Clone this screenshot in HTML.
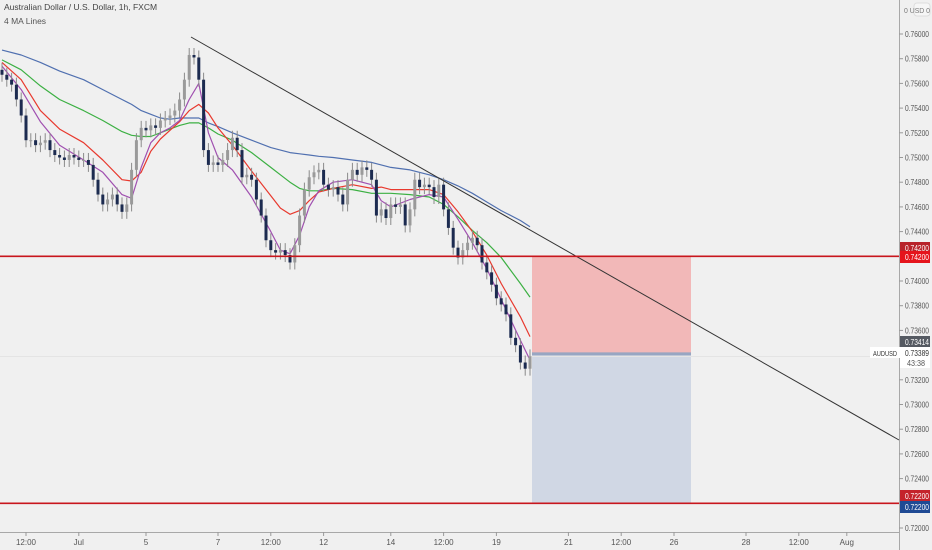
<!DOCTYPE html>
<html><head><meta charset="utf-8">
<style>
html,body{margin:0;padding:0;background:#f0f0f0;}
svg{display:block;font-family:"Liberation Sans",sans-serif;}
</style></head>
<body>
<svg id="chart" width="932" height="550" viewBox="0 0 932 550">
<rect x="0" y="0" width="932" height="550" fill="#f0f0f0"/>
<g id="zones"></g>
<g id="mas"></g>
<g id="candles"></g>
<g id="overlay"></g>
<line x1="899.5" y1="0" x2="899.5" y2="550" stroke="#a8a8a8"/>
<line x1="0" y1="532.5" x2="899" y2="532.5" stroke="#a8a8a8"/>
<g id="yaxis" font-size="8" fill="#555"></g>
<g id="xaxis" font-size="8" fill="#555"></g>
<text x="4" y="10" font-size="8.5" fill="#444">Australian Dollar / U.S. Dollar, 1h, FXCM</text>
<text x="4" y="24" font-size="8.5" fill="#555">4 MA Lines</text>
<rect x="914" y="3" width="16" height="13" rx="3" fill="#f6f6f6" stroke="#ddd"/>
<text x="904" y="13" font-size="7.5" fill="#777" textLength="26" lengthAdjust="spacingAndGlyphs">0 USD 0</text>
</svg>
<script>
const categories = ["12:00","Jul","5","7","12:00","12","14","12:00","19","21","12:00","26","28","12:00","Aug"];
const tickBars = [5,16,30,45,56,67,81,92,103,118,129,140,155,166,176];
const priceTicks = [0.760,0.758,0.756,0.754,0.752,0.750,0.748,0.746,0.744,0.740,0.738,0.736,0.732,0.730,0.728,0.726,0.724,0.720];
const closes = [0.7567,0.7563,0.7559,0.7547,0.7534,0.7514,0.7514,0.7510,0.7512,0.7514,
0.7506,0.7502,0.7500,0.7498,0.7502,0.7500,0.7498,0.7498,0.7494,0.7482,
0.7470,0.7462,0.7466,0.7470,0.7462,0.7456,0.7462,0.7490,0.7514,0.7524,
0.7522,0.7526,0.7524,0.7530,0.7532,0.7534,0.7538,0.7547,0.7563,0.7583,
0.7581,0.7563,0.7506,0.7494,0.7496,0.7494,0.7498,0.7506,0.7516,0.7506,
0.7484,0.7486,0.7482,0.7466,0.7453,0.7433,0.7425,0.7423,0.7425,0.7421,
0.7415,0.7429,0.7453,0.7474,0.7484,0.7488,0.7490,0.7478,0.7474,0.7476,
0.7470,0.7462,0.7482,0.7490,0.7486,0.7492,0.7490,0.7482,0.7453,0.7458,
0.7451,0.7462,0.7460,0.7462,0.7445,0.7458,0.7482,0.7476,0.7478,0.7476,
0.7468,0.7478,0.7458,0.7443,0.7427,0.7419,0.7425,0.7431,0.7435,0.7429,
0.7415,0.7407,0.7397,0.7386,0.7381,0.7373,0.7354,0.7348,0.7334,0.7329,0.7339];
const maBars = [0,4,8,12,17,21,25,27,29,31,33,35,37,39,41,43,45,48,52,56,58,60,62,64,66,69,73,77,79,81,85,89,92,95,98,101,104,108,110];
const maBlue =   [0.7587,0.7583,0.7577,0.7570,0.7563,0.7555,0.7547,0.7543,0.7538,0.7535,0.7532,0.7531,0.7532,0.7532,0.7532,0.7528,0.7525,0.7520,0.7514,0.7508,0.7506,0.7504,0.7503,0.7502,0.7501,0.7500,0.7498,0.7496,0.7494,0.7492,0.7490,0.7486,0.7482,0.7477,0.7471,0.7464,0.7457,0.7449,0.7444];
const maGreen =  [0.7579,0.7571,0.7558,0.7547,0.7538,0.7530,0.7521,0.7518,0.7517,0.7517,0.7520,0.7523,0.7526,0.7528,0.7528,0.7524,0.7519,0.7514,0.7504,0.7492,0.7486,0.7480,0.7475,0.7473,0.7473,0.7475,0.7474,0.7471,0.7471,0.7471,0.7470,0.7468,0.7462,0.7452,0.7441,0.7431,0.7419,0.7398,0.7387];
const maRed =    [0.7577,0.7563,0.7538,0.7523,0.7512,0.7498,0.7482,0.7481,0.7488,0.7505,0.7515,0.7522,0.7529,0.7538,0.7543,0.7536,0.7524,0.7510,0.7489,0.7469,0.7459,0.7454,0.7457,0.7465,0.7472,0.7475,0.7478,0.7475,0.7476,0.7474,0.7474,0.7474,0.7470,0.7456,0.7440,0.7421,0.7398,0.7371,0.7355];
const maPurple = [0.7574,0.7555,0.7529,0.7510,0.7498,0.7488,0.7470,0.7467,0.7492,0.7512,0.7520,0.7524,0.7530,0.7547,0.7560,0.7520,0.7500,0.7490,0.7468,0.7440,0.7425,0.7422,0.7437,0.7460,0.7473,0.7480,0.7482,0.7478,0.7465,0.7460,0.7466,0.7470,0.7468,0.7450,0.7431,0.7410,0.7385,0.7352,0.7336];
const pTop=0.760, yTop=34, pxPerUnit=24.7/0.002;
function yOf(p){return yTop+(pTop-p)*pxPerUnit;}
function xOf(i){return 2+i*4.8;}
const NS="http://www.w3.org/2000/svg";
function mk(tag,attrs,parent){const e=document.createElementNS(NS,tag);for(const k in attrs)e.setAttribute(k,attrs[k]);parent.appendChild(e);return e;}
const zones=document.getElementById('zones');
let z1=mk('rect',{x:532,y:yOf(0.742),width:159,height:yOf(0.73414)-yOf(0.742),fill:'#f2b8b8'},zones);


let z2=mk('rect',{x:532,y:yOf(0.73414)+2,width:159,height:yOf(0.722)-yOf(0.73414)-2,fill:'#d0d7e4'},zones);


let z3=mk('rect',{x:532,y:yOf(0.73414)-1,width:159,height:3,fill:'#98a6c2'},zones);


let pl=mk('line',{x1:0,x2:899,y1:yOf(0.73389),y2:yOf(0.73389),stroke:'#e4e4e4','stroke-width':1},zones);


const mas=document.getElementById('mas');
[[maBlue,'#5070b0','ma-blue'],[maGreen,'#3cb043','ma-green'],[maRed,'#e8392e','ma-red'],[maPurple,'#a050b0','ma-purple']].forEach(([arr,c,n])=>{
  const pts=arr.map((v,k)=>xOf(maBars[k]).toFixed(1)+','+yOf(v).toFixed(1)).join(' ');
  const l=mk('polyline',{points:pts,fill:'none',stroke:c,'stroke-width':1.2,'stroke-linejoin':'round'},mas);
  
  
});
const cg=document.getElementById('candles');
closes.forEach((c,i)=>{
  const o=i===0?c+0.0004:closes[i-1];
  const up=c>=o;
  const col=up?'#9a9a9a':'#1c2b50';
  const x=xOf(i);
  const top=yOf(Math.max(o,c)), bot=yOf(Math.min(o,c));
  const g=mk('g',{},cg);
  
  
  mk('line',{x1:x,x2:x,y1:top-7,y2:bot+7,stroke:'#8a8a8a','stroke-width':1},g);
  mk('rect',{x:x-1.5,y:top,width:3,height:Math.max(1,bot-top),fill:col},g);
});
const ov=document.getElementById('overlay');
let tl=mk('line',{x1:191,y1:37,x2:899,y2:440,stroke:'#333','stroke-width':1},ov);


[[0.742,'resistance-line'],[0.722,'target-line']].forEach(([p,n])=>{
  const l=mk('line',{x1:0,x2:899,y1:yOf(p),y2:yOf(p),stroke:'#c8161d','stroke-width':1.6},ov);
  
  
});
const ya=document.getElementById('yaxis');
priceTicks.forEach(p=>{
  const y=yOf(p);
  mk('line',{x1:899,x2:903,y1:y,y2:y,stroke:'#999'},ya);
  const t=mk('text',{x:905,y:y+3,textLength:24,lengthAdjust:'spacingAndGlyphs'},ya);t.textContent=p.toFixed(5);
  
  
});
function tag(y,bg,txt,n){
  const g=mk('g',{},ya);
  
  
  mk('rect',{x:900,y:y-6,width:30,height:12,fill:bg},g);
  const t=mk('text',{x:905,y:y+3,fill:'#fff',textLength:24,lengthAdjust:'spacingAndGlyphs'},g);t.textContent=txt;
}
tag(248,'#b8232a','0.74200','sl-tag-top');
tag(257,'#e5141c','0.74200','sl-tag');
tag(342,'#555a62','0.73414','entry-tag');
tag(496,'#c4232b','0.72200','tp-tag-red');
tag(507,'#1f4a94','0.72200','tp-tag-blue');
{
  const g=mk('g',{},ya);
  
  
  mk('rect',{x:870,y:347,width:30,height:11,fill:'#fff'},g);
  mk('rect',{x:900,y:347,width:30,height:21,fill:'#fff'},g);
  let t=mk('text',{x:873,y:356,fill:'#333','font-size':7,textLength:24,lengthAdjust:'spacingAndGlyphs'},g);t.textContent='AUDUSD';
  t=mk('text',{x:905,y:356,fill:'#333',textLength:24,lengthAdjust:'spacingAndGlyphs'},g);t.textContent='0.73389';
  t=mk('text',{x:907,y:366,fill:'#555',textLength:18,lengthAdjust:'spacingAndGlyphs'},g);t.textContent='43:38';
}
const xa=document.getElementById('xaxis');
categories.forEach((c,k)=>{
  const x=xOf(tickBars[k]);
  mk('line',{x1:x,x2:x,y1:532,y2:536,stroke:'#999'},xa);
  const t=mk('text',{x:x,y:545,'text-anchor':'middle'},xa);t.textContent=c;
  
  
});
</script>
</body></html>
